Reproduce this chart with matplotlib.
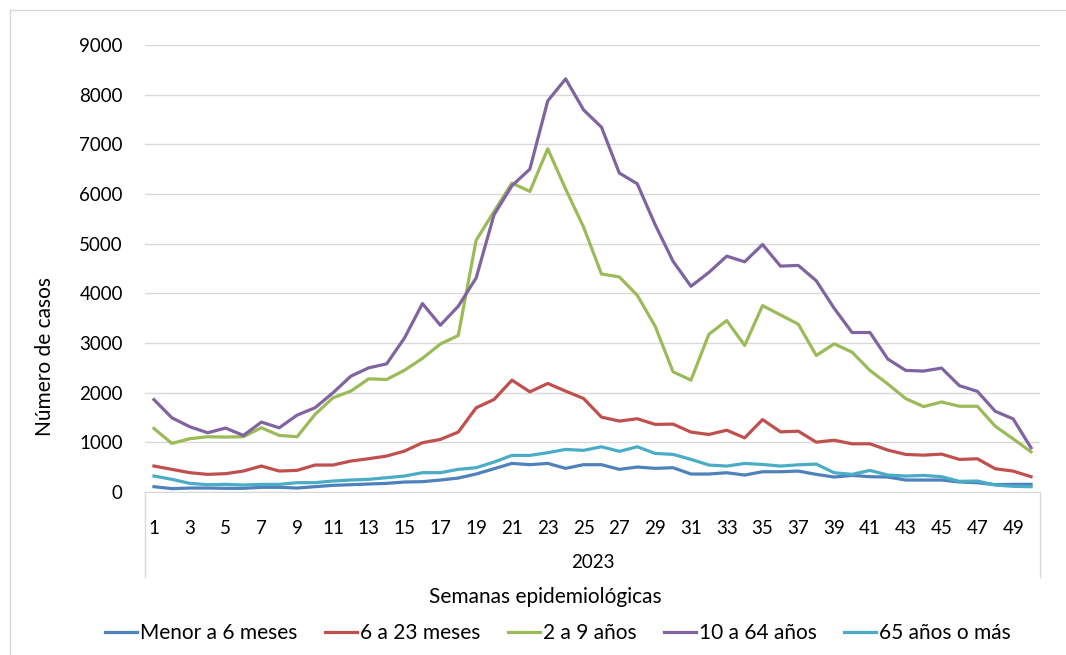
import matplotlib
matplotlib.use("Agg")
from matplotlib import pyplot as plt
from matplotlib.lines import Line2D

plt.rcParams['font.family'] = ['Lato', 'DejaVu Sans']

semanas = list(range(1, 51))

menor_6m = [107, 67, 80, 80, 74, 74, 94, 94, 80, 107, 134, 147, 161, 174, 201, 208, 241,
            281, 362, 469, 576, 550, 576, 476, 550, 550, 456, 503, 476, 489, 362, 362,
            388, 341, 408, 408, 421, 355, 301, 334, 308, 301, 241, 241, 241, 201, 187,
            147, 154, 154]
de_6_a_23m = [523, 456, 389, 355, 369, 422, 523, 422, 436, 543, 543, 623, 670, 724, 824,
              992, 1059, 1206, 1696, 1863, 2252, 2017, 2185, 2031, 1883, 1508, 1428, 1475,
              1361, 1367, 1206, 1158, 1244, 1090, 1458, 1211, 1224, 1003, 1043, 970, 970,
              843, 756, 742, 763, 656, 669, 468, 421, 308]
de_2_a_9 = [1280, 979, 1072, 1113, 1106, 1113, 1294, 1139, 1113, 1562, 1897, 2031, 2279,
            2265, 2453, 2690, 2980, 3150, 5067, 5650, 6220, 6052, 6910, 6099, 5335, 4390,
            4330, 3961, 3338, 2420, 2252, 3175, 3452, 2950, 3753, 3565, 3378, 2749, 2983,
            2816, 2448, 2174, 1880, 1719, 1813, 1726, 1726, 1324, 1070, 809]
de_10_a_64 = [1860, 1495, 1314, 1193, 1287, 1139, 1407, 1293, 1548, 1696, 1997, 2332, 2500,
              2580, 3103, 3794, 3358, 3740, 4310, 5583, 6166, 6501, 7875, 8318, 7694, 7346,
              6421, 6206, 5382, 4645, 4142, 4420, 4749, 4635, 4983, 4548, 4562, 4254, 3699,
              3211, 3211, 2676, 2448, 2435, 2495, 2140, 2027, 1625, 1472, 890]
mayor_65 = [322, 255, 174, 147, 154, 141, 154, 154, 188, 188, 221, 241, 255, 288, 322, 389,
            389, 456, 489, 603, 737, 737, 791, 858, 838, 911, 818, 911, 777, 757, 657, 543,
            522, 575, 555, 522, 548, 562, 388, 355, 435, 341, 321, 334, 308, 214, 221, 140,
            114, 107]

series = [
    ("Menor a 6 meses", menor_6m, "#4F81BD"),
    ("6 a 23 meses", de_6_a_23m, "#C0504D"),
    ("2 a 9 años", de_2_a_9, "#9BBB59"),
    ("10 a 64 años", de_10_a_64, "#8064A2"),
    ("65 años o más", mayor_65, "#4BACC6"),
]

W, H = 1066, 655
fig = plt.figure(figsize=(W / 100, H / 100), dpi=100)
ax = fig.add_axes([145 / W, 1 - 492 / H, 895 / W, 447 / H])

for nombre, valores, color in series:
    ax.plot(semanas, valores, color=color, lw=2.3, label=nombre, solid_joinstyle="round")

ax.set_xlim(0.5, 50.5)
ax.set_ylim(0, 9000)
ax.set_yticks(range(0, 9001, 1000))
ax.set_xticks(semanas[::2])
ax.tick_params(axis="both", length=0, labelsize=13.5, colors="black")
ax.tick_params(axis="y", pad=16)
ax.tick_params(axis="x", pad=20)
ax.grid(axis="y", color="#D9D9D9", lw=1)
ax.set_axisbelow(True)
for lado in ["left", "right", "top"]:
    ax.spines[lado].set_visible(False)
ax.spines["bottom"].set_color("#D9D9D9")

# separadores del eje de categorías con el año
for x in (0, 1):
    ax.plot([x, x], [0, -85 / 447], color="#D9D9D9", lw=1,
            transform=ax.transAxes, clip_on=False)
ax.text(0.5, -(563 - 492) / 447, "2023", transform=ax.transAxes,
        ha="center", va="center", fontsize=13.5)

fig.text(545 / W, 1 - 597 / H, "Semanas epidemiológicas", ha="center", va="center", fontsize=15)
fig.text(45 / W, 1 - 357 / H, "Número de casos", rotation=90, ha="center", va="center", fontsize=15)

fig.legend(loc="center", bbox_to_anchor=(558 / W, 1 - 633 / H), ncol=5, frameon=False,
           fontsize=15, handlelength=1.55, handletextpad=0.15, columnspacing=1.3)

# marco del área del gráfico
fig.add_artist(Line2D([10 / W, 10 / W], [0, 1 - 10 / H], color="#D9D9D9", lw=1))
fig.add_artist(Line2D([10 / W, 1], [1 - 10 / H, 1 - 10 / H], color="#D9D9D9", lw=1))

fig.savefig("out.png", dpi=100)
